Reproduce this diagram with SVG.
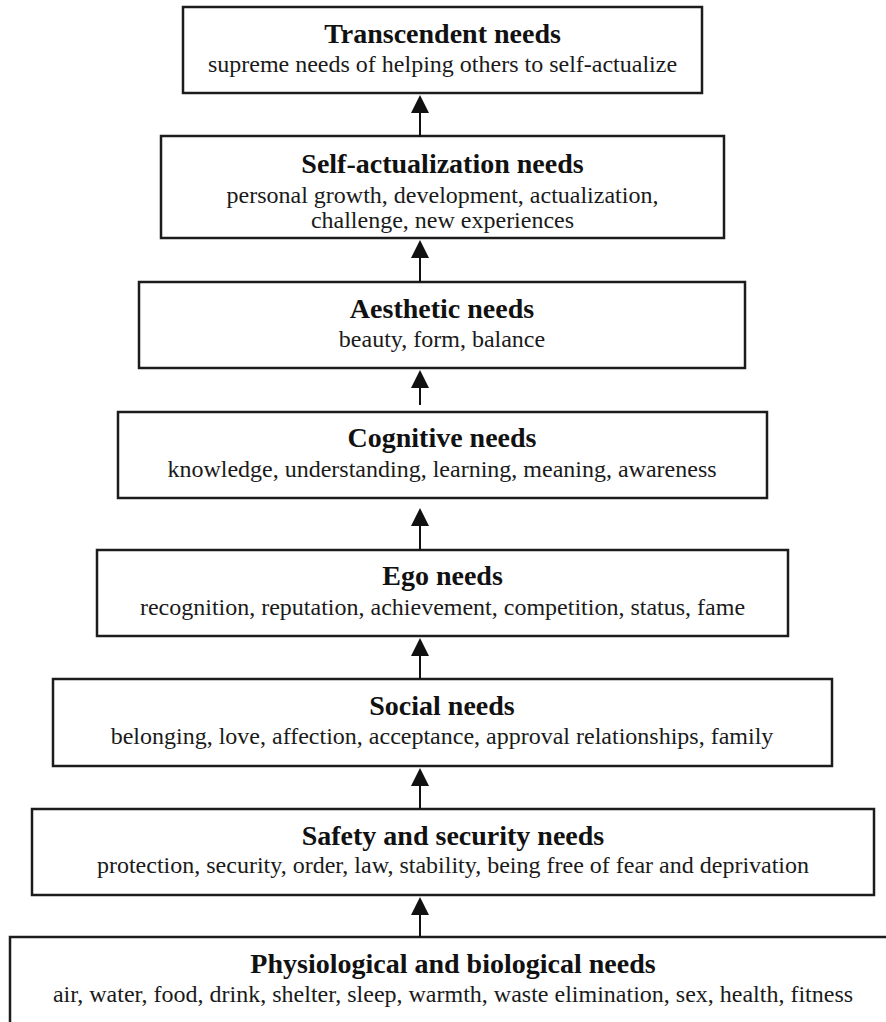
<svg xmlns="http://www.w3.org/2000/svg" width="886" height="1022" viewBox="0 0 886 1022">
  <style>
    .box { fill: #ffffff; stroke: #1c1c1c; stroke-width: 2.5; }
    .title { font-family: "Liberation Serif", "Times New Roman", serif; font-weight: bold; font-size: 28px; fill: #111; text-anchor: middle; }
    .sub { font-family: "Liberation Serif", "Times New Roman", serif; font-size: 24px; fill: #1a1a1a; text-anchor: middle; }
    .conn { stroke: #111; stroke-width: 2; fill: none; marker-end: url(#head); }
  </style>
  <defs>
    <marker id="head" markerUnits="userSpaceOnUse" markerWidth="19" markerHeight="19" refX="0" refY="9" orient="auto" overflow="visible">
      <path d="M0,0 L18,9 L0,18 Z" fill="#111"/>
    </marker>
  </defs>
  <rect width="886" height="1022" fill="#ffffff"/>

  <g id="transcendent">
    <rect class="box" x="183" y="7" width="519" height="86"/>
    <text class="title" x="442.5" y="43">Transcendent needs</text>
    <text class="sub" x="442.5" y="72">supreme needs of helping others to self-actualize</text>
  </g>

  <g id="self-actualization">
    <rect class="box" x="161" y="136" width="563" height="102"/>
    <text class="title" x="442.5" y="173">Self-actualization needs</text>
    <text class="sub" x="442.5" y="203">personal growth, development, actualization,</text>
    <text class="sub" x="442.5" y="228">challenge, new experiences</text>
  </g>

  <g id="aesthetic">
    <rect class="box" x="139" y="282" width="606" height="86"/>
    <text class="title" x="442" y="318">Aesthetic needs</text>
    <text class="sub" x="442" y="347">beauty, form, balance</text>
  </g>

  <g id="cognitive">
    <rect class="box" x="118" y="412" width="649" height="86"/>
    <text class="title" x="442" y="447">Cognitive needs</text>
    <text class="sub" x="442" y="477">knowledge, understanding, learning, meaning, awareness</text>
  </g>

  <g id="ego">
    <rect class="box" x="97" y="550" width="691" height="86"/>
    <text class="title" x="442.5" y="585">Ego needs</text>
    <text class="sub" x="442.5" y="615">recognition, reputation, achievement, competition, status, fame</text>
  </g>

  <g id="social">
    <rect class="box" x="53" y="679" width="779" height="87"/>
    <text class="title" x="442" y="715">Social needs</text>
    <text class="sub" x="442" y="744">belonging, love, affection, acceptance, approval relationships, family</text>
  </g>

  <g id="safety">
    <rect class="box" x="32" y="809" width="842" height="86"/>
    <text class="title" x="453" y="845">Safety and security needs</text>
    <text class="sub" x="453" y="873">protection, security, order, law, stability, being free of fear and deprivation</text>
  </g>

  <g id="physiological">
    <rect class="box" x="10" y="937" width="900" height="120"/>
    <text class="title" x="453" y="973">Physiological and biological needs</text>
    <text class="sub" x="453" y="1002">air, water, food, drink, shelter, sleep, warmth, waste elimination, sex, health, fitness</text>
  </g>

  <g id="connectors">
    <line class="conn" x1="420" y1="137" x2="420" y2="113"/>
    <line class="conn" x1="420" y1="282" x2="420" y2="258"/>
    <line class="conn" x1="420" y1="405" x2="420" y2="388"/>
    <line class="conn" x1="420" y1="550" x2="420" y2="526"/>
    <line class="conn" x1="420" y1="679" x2="420" y2="656"/>
    <line class="conn" x1="420" y1="809" x2="420" y2="786"/>
    <line class="conn" x1="420" y1="937" x2="420" y2="915"/>
  </g>
</svg>
